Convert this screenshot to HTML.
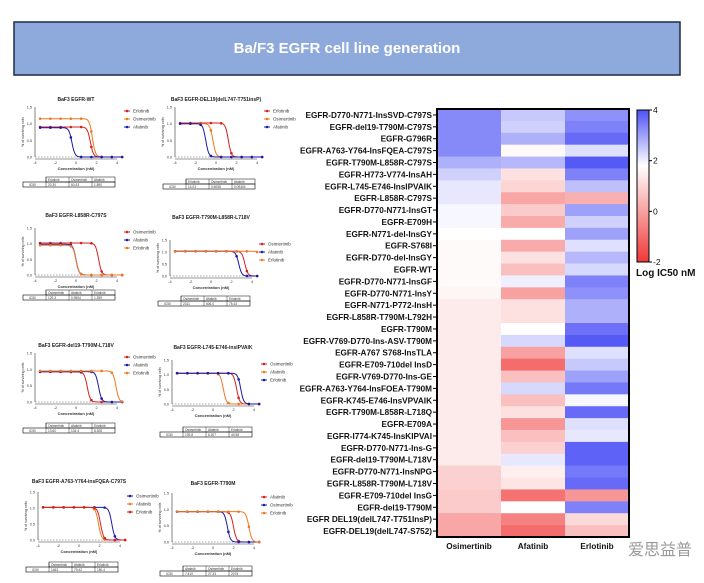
<!DOCTYPE html>
<html><head><meta charset="utf-8">
<style>
body{margin:0;background:#fff;width:704px;height:583px;overflow:hidden;font-family:"Liberation Sans",Arial,sans-serif}
svg{position:absolute;left:0;top:0}
</style></head>
<body>
<svg id="s" width="704" height="583" xmlns="http://www.w3.org/2000/svg" font-family="Liberation Sans, Arial, sans-serif">
<rect x="14" y="22" width="666" height="53" fill="#8eaadc" stroke="#1c2a48" stroke-width="1.5"/>
<text x="347" y="53" text-anchor="middle" font-size="15" font-weight="bold" fill="#fff">Ba/F3 EGFR cell line generation</text>
<g id="small"></g>
<g id="heat"></g>
<text x="628" y="555" font-size="16" fill="#999" font-family="Liberation Sans, Noto Sans CJK SC, sans-serif">爱思益普</text>
</svg>
<script>
// ---- heatmap data ----
const rowLabels=["EGFR-D770-N771-InsSVD-C797S","EGFR-del19-T790M-C797S","EGFR-G796R","EGFR-A763-Y764-InsFQEA-C797S","EGFR-T790M-L858R-C797S","EGFR-H773-V774-InsAH","EGFR-L745-E746-InsIPVAIK","EGFR-L858R-C797S","EGFR-D770-N771-InsGT","EGFR-E709H","EGFR-N771-del-InsGY","EGFR-S768I","EGFR-D770-del-InsGY","EGFR-WT","EGFR-D770-N771-InsGF","EGFR-D770-N771-InsY","EGFR-N771-P772-InsH","EGFR-L858R-T790M-L792H","EGFR-T790M","EGFR-V769-D770-Ins-ASV-T790M","EGFR-A767 S768-InsTLA","EGFR-E709-710del InsD","EGFR-V769-D770-Ins-GE","EGFR-A763-Y764-InsFOEA-T790M","EGFR-K745-E746-InsVPVAIK","EGFR-T790M-L858R-L718Q","EGFR-E709A","EGFR-I774-K745-InsKIPVAI","EGFR-D770-N771-Ins-G","EGFR-del19-T790M-L718V","EGFR-D770-N771-InsNPG","EGFR-L858R-T790M-L718V","EGFR-E709-710del InsG","EGFR-del19-T790M","EGFR DEL19(delL747-T751InsP)","EGFR-DEL19(delL747-S752)"];
const drugs=["Osimertinib","Afatinib","Erlotinib"];
const osiVals=[3.3,3.3,3.3,3.3,2.8,2.4,2.1,2.1,1.9,1.9,1.8,1.7,1.7,1.7,1.7,1.6,1.4,1.4,1.4,1.4,1.4,1.4,1.4,1.4,1.4,1.4,1.4,1.4,1.4,1.4,0.9,0.9,0.8,0.8,0.1,0.1];
const afaVals=[2.5,2.4,2.8,1.7,2.7,1.2,1.0,0.1,0.8,0.2,1.8,0.2,1.2,0.6,2.0,0.0,1.2,1.2,1.8,2.3,0.0,-1.0,0.6,2.3,0.6,1.2,-0.2,0.6,0.9,2.1,1.5,1.3,-0.9,1.8,-0.6,-1.0];
const erlVals=[3.2,3.4,3.7,2.2,3.9,3.4,2.6,0.3,3.0,2.4,3.0,2.2,2.7,2.3,3.4,3.2,2.8,2.8,3.6,3.9,2.2,2.5,3.0,3.5,1.9,3.7,2.2,2.1,3.8,3.8,3.5,3.7,-0.2,3.4,1.1,0.6];
const cbTicks=[4,2,0,-2];

// ---- small dose-response charts data ----
const smallTitles=["BaF3 EGFR-WT","BaF3 EGFR-DEL19(delL747-T751insP)","BaF3 EGFR-L858R-C797S","BaF3 EGFR-T790M-L858R-L718V","BaF3 EGFR-del19-T790M-L718V","BaF3 EGFR-L745-E746-insIPVAIK","BaF3 EGFR-A763-Y764-insFQEA-C797S","BaF3 EGFR-T790M"];
const smallNames=[["Erlotinib","Osimertinib","Afatinib"],["Erlotinib","Osimertinib","Afatinib"],["Osimertinib","Afatinib","Erlotinib"],["Osimertinib","Afatinib","Erlotinib"],["Osimertinib","Afatinib","Erlotinib"],["Osimertinib","Afatinib","Erlotinib"],["Osimertinib","Afatinib","Erlotinib"],["Afatinib","Osimertinib","Erlotinib"]];
const smallColors=[["#d62020","#f07820","#1a1aa8"],["#d62020","#f07820","#1a1aa8"],["#d62020","#1a1aa8","#f07820"],["#d62020","#1a1aa8","#f07820"],["#d62020","#1a1aa8","#f07820"],["#d62020","#f07820","#1a1aa8"],["#1a1aa8","#f07820","#d62020"],["#d62020","#1a1aa8","#f07820"]];
const smallIC50=[[1.4,1.6,-0.4],[1.2,-0.3,-1.0],[2.2,0.0,0.0],[3.3,2.7,5.0],[1.1,2.2,3.9],[2.3,1.0,2.7],[3.2,1.9,2.1],[2.0,1.4,3.5]];
const smallTop=[[0.9,1.15,0.88],[1.02,1.0,1.0],[1.02,0.98,0.95],[1.03,1.03,1.03],[0.92,0.93,0.95],[1.05,1.05,1.05],[1.02,1.02,1.02],[0.93,0.93,0.93]];
const smallTable=[["20.30","60.43","1.890"],["14.03","0.6058","0.09404"],["129.3","0.9554","1.399"],["2311","606.0","75.43"],["13.60","104.4","8.308"],["139.8","6.207","40.58"],["1463","79.42","150.4"],["7.410","27.33","2075"]];
const yTicks=[0,0.5,1.0,1.5];
const xTicks=[-4,-2,0,2,4];

const NS="http://www.w3.org/2000/svg";
function mk(tag,attrs,parent,txt){const e=document.createElementNS(NS,tag);for(const k in attrs)e.setAttribute(k,attrs[k]);if(txt!==undefined)e.textContent=txt;parent.appendChild(e);return e;}

// heatmap
const H=document.getElementById('heat');
const hx0=437,hx1=629,hy0=109,hy1=537;
const colW=(hx1-hx0)/drugs.length,rowH=(hy1-hy0)/rowLabels.length;
function colorOf(v){const w=1.8;let c0=[255,255,255],c,t;
 if(v>=w){t=Math.min(1,(v-w)/(4-w));c=[78,82,245];}else{t=Math.min(1,(w-v)/(w+2));c=[240,56,56];}
 return `rgb(${Math.round(c0[0]+(c[0]-c0[0])*t)},${Math.round(c0[1]+(c[1]-c0[1])*t)},${Math.round(c0[2]+(c[2]-c0[2])*t)})`;}
const series=[osiVals,afaVals,erlVals];
series.forEach((vals,ci)=>{vals.forEach((v,ri)=>{
 const r=mk('rect',{x:hx0+ci*colW,y:hy0+ri*rowH,width:colW+0.5,height:rowH+0.5,fill:colorOf(v)},H);
 
 
});});
const hb=mk('rect',{x:hx0,y:hy0,width:hx1-hx0,height:hy1-hy0,fill:'none',stroke:'#000','stroke-width':2},H);


rowLabels.forEach((l,ri)=>{const yy=hy0+(ri+0.5)*rowH;
 const t=mk('text',{x:432,y:yy+3,'text-anchor':'end','font-size':8.2,'font-weight':'bold',fill:'#111'},H,l);
 
 
 mk('line',{x1:433,x2:437,y1:yy,y2:yy,stroke:'#000','stroke-width':1},H);
});
drugs.forEach((d,ci)=>{const t=mk('text',{x:hx0+(ci+0.5)*colW,y:549,'text-anchor':'middle','font-size':8.2,'font-weight':'bold',fill:'#111'},H,d);
 
 });
// colorbar
const defs=mk('defs',{},H);const lg=mk('linearGradient',{id:'cb',x1:0,y1:0,x2:0,y2:1},defs);
[[0,'rgb(78,82,245)'],[(4-1.8)/6,'#fff'],[1,'rgb(240,56,56)']].forEach(s=>mk('stop',{offset:s[0],'stop-color':s[1]},lg));
const cby0=110,cby1=262;
const cb=mk('rect',{x:637,y:cby0,width:12,height:cby1-cby0,fill:'url(#cb)',stroke:'#000','stroke-width':1},H);


cbTicks.forEach(v=>{const yy=cby0+(4-v)/6*(cby1-cby0);
 mk('line',{x1:649,x2:652,y1:yy,y2:yy,stroke:'#000'},H);
 const t=mk('text',{x:653,y:yy+3,'font-size':8.5,fill:'#111'},H,String(v));
 
 });
const cbt=mk('text',{x:636,y:276,'font-size':10,'font-weight':'bold',fill:'#111'},H,'Log IC50 nM');



// small charts
const G=document.getElementById('small');
const layout=[[35,101,107,157,177],[175,101,107,157,179],[35,217,228,275,290],[170,219,240,276,296],[35,347,353,402,423],[172,349,360,404,427],[38,483,492,540,562],[172,485,493,542,566]];
smallTitles.forEach((title,i)=>{
 const [px,ty,py0,py1,tby]=layout[i];const pw=82;
 const g=mk('g',{},G);
 
 
 const xs=v=>px+(v+4)/8*pw, ys=v=>py1-v/1.5*(py1-py0);
 mk('text',{x:px+pw/2,y:ty,'text-anchor':'middle','font-size':5,'font-weight':'bold',fill:'#222'},g,title);
 mk('line',{x1:px,x2:px,y1:py0,y2:py1,stroke:'#333','stroke-width':0.6},g);
 mk('line',{x1:px,x2:px+pw,y1:py1+2,y2:py1+2,stroke:'#333','stroke-width':0.6},g);
 mk('line',{x1:px,x2:px+pw,y1:ys(0),y2:ys(0),stroke:'#555','stroke-width':0.5,'stroke-dasharray':'1.5,1.5'},g);
 yTicks.forEach(v=>mk('text',{x:px-3,y:ys(v)+1.5,'text-anchor':'end','font-size':3.8,fill:'#333'},g,v.toFixed(1)));
 xTicks.forEach(v=>mk('text',{x:xs(v),y:py1+7,'text-anchor':'middle','font-size':3.8,fill:'#333'},g,String(v)));
 mk('text',{x:px+pw/2,y:py1+13,'text-anchor':'middle','font-size':4,'font-weight':'bold',fill:'#333'},g,'Concentration (nM)');
 mk('text',{x:px-11,y:(py0+py1)/2,'text-anchor':'middle','font-size':3.5,fill:'#333',transform:`rotate(-90 ${px-11} ${(py0+py1)/2})`},g,'% of surviving cells');
 smallNames[i].forEach((n,k)=>{const col=smallColors[i][k],ic=smallIC50[i][k],top=smallTop[i][k];
  let d='';for(let x=-3.5;x<=4.6;x+=0.1){const y=top/(1+Math.pow(10,(x-ic)*3));d+=(d?'L':'M')+xs(x).toFixed(1)+' '+ys(y).toFixed(1);}
  const p=mk('path',{d:d,fill:'none',stroke:col,'stroke-width':1},g);
  
  
  for(let x=-3.5;x<=4.6;x+=1){const y=top/(1+Math.pow(10,(x-ic)*3));mk('circle',{cx:xs(x),cy:ys(y),r:1.3,fill:col},g);}
  const ly=py0+4+k*8;
  mk('line',{x1:px+pw+7,x2:px+pw+13,y1:ly,y2:ly,stroke:col,'stroke-width':1},g);
  mk('circle',{cx:px+pw+10,cy:ly,r:1.3,fill:col},g);
  mk('text',{x:px+pw+16,y:ly+1.5,'font-size':4.5,fill:'#333'},g,n);
 });
 const tx=px-12,tw=pw+10;
 const tb=mk('g',{},g);
 
 
 mk('rect',{x:tx+tw/4,y:tby,width:tw*3/4,height:5,fill:'none',stroke:'#000','stroke-width':0.5},tb);
 mk('rect',{x:tx,y:tby+5,width:tw,height:5,fill:'none',stroke:'#000','stroke-width':0.6},tb);
 for(let c=1;c<4;c++){mk('line',{x1:tx+tw*c/4,x2:tx+tw*c/4,y1:tby,y2:tby+10,stroke:'#000','stroke-width':0.4},tb);
  mk('text',{x:tx+tw*c/4+2,y:tby+4,'font-size':3.2,fill:'#333'},tb,smallNames[i][c-1]);
  mk('text',{x:tx+tw*c/4+2,y:tby+9,'font-size':3.2,fill:'#333'},tb,smallTable[i][c-1]);}
 mk('text',{x:tx+6,y:tby+9,'font-size':3.2,fill:'#333'},tb,'IC50');
});
</script>
</body></html>
